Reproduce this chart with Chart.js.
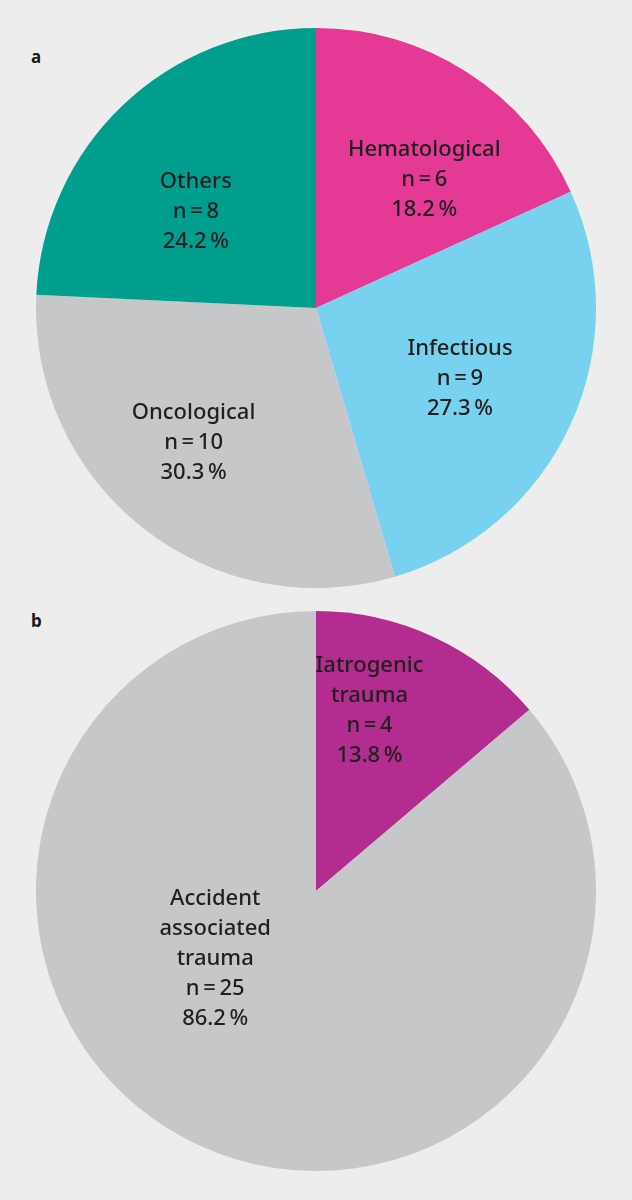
<!DOCTYPE html>
<html><head><meta charset="utf-8">
<script src="https://cdn.jsdelivr.net/npm/chart.js@4"></script>
<style>
html,body{margin:0;padding:0;background:#ededed;}
body{width:632px;height:1200px;position:relative;overflow:hidden;font-family:"Noto Sans",sans-serif;}
.lbl{position:absolute;font-weight:bold;font-size:17px;color:#1a1a1a;}
canvas{position:absolute;}
</style></head><body>
<div class="lbl" style="left:31px;top:45px;">a</div>
<div class="lbl" style="left:31px;top:609px;">b</div>
<canvas id="ca" width="560" height="560" style="left:36px;top:28px;width:560px;height:560px"></canvas>
<canvas id="cb" width="560" height="560" style="left:36px;top:611px;width:560px;height:560px"></canvas>
<script>
const categoriesA = ["Hematological", "Infectious", "Oncological", "Others"];
const countsA = [6, 9, 10, 8];
const percentA = ["18.2\u2009%", "27.3\u2009%", "30.3\u2009%", "24.2\u2009%"];
const colorsA = ["#e43a96", "#78d1ef", "#c6c7c9", "#009e8c"];

const categoriesB = [["Iatrogenic", "trauma"], ["Accident", "associated", "trauma"]];
const countsB = [4, 25];
const percentB = ["13.8\u2009%", "86.2\u2009%"];
const colorsB = ["#b22d8f", "#c6c7c9"];

const labelPlugin = {
  id: 'sliceLabels',
  afterDatasetsDraw(chart, args, opts) {
    const ctx = chart.ctx;
    const meta = chart.getDatasetMeta(0);
    ctx.save();
    ctx.fillStyle = '#231f20';
    ctx.font = '500 22px "Noto Sans", sans-serif';
    ctx.textAlign = 'center';
    ctx.textBaseline = 'middle';
    meta.data.forEach((arc, i) => {
      const p = opts.place[i];
      const mid = (arc.startAngle + arc.endAngle) / 2 + p.da * Math.PI / 180;
      const r = arc.outerRadius * p.rf;
      const cx = arc.x + Math.cos(mid) * r;
      const cy = arc.y + Math.sin(mid) * r + 2;
      const lines = opts.lines[i];
      const lh = 30;
      lines.forEach((t, k) => {
        ctx.fillText(t, cx, cy + (k - (lines.length - 1) / 2) * lh);
      });
    });
    ctx.restore();
  }
};

function mk(id, cats, counts, pcts, colors, place) {
  const lines = cats.map((c, i) => [].concat(c, ["n\u2009=\u2009" + counts[i], pcts[i]]));
  new Chart(document.getElementById(id), {
    type: 'pie',
    data: { labels: cats.map(c => [].concat(c).join(' ')), datasets: [{ data: counts, backgroundColor: colors, borderWidth: 0 }] },
    options: {
      responsive: false, animation: false,
      layout: { padding: 0 },
      plugins: { legend: { display: false }, tooltip: { enabled: false }, sliceLabels: { lines, place } }
    },
    plugins: [labelPlugin]
  });
}
mk('ca', categoriesA, countsA, percentA, colorsA, [{rf:0.605,da:7},{rf:0.57,da:1},{rf:0.645,da:4.5},{rf:0.555,da:-7}]);
mk('cb', categoriesB, countsB, percentB, colorsB, [{rf:0.68,da:-8.5},{rf:0.43,da:32}]);
</script>
</body></html>
